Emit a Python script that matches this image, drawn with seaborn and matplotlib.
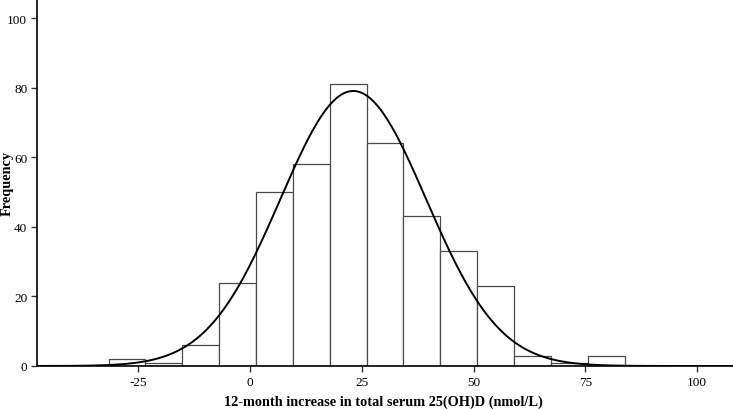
import numpy as np
import pandas as pd
import seaborn as sns
from matplotlib import pyplot as plt

sns.set_style("ticks")
plt.rcParams["font.family"] = ["Liberation Serif", "DejaVu Serif"]
plt.rcParams["axes.unicode_minus"] = False
plt.rcParams["text.color"] = "black"
plt.rcParams["axes.labelcolor"] = "black"

# histogram
bin_start = -31.6
bin_width = 8.24
counts = [2, 1, 6, 24, 50, 58, 81, 64, 43, 33, 23, 3, 1, 3]
# fitted normal curve
curve_mean = 23.1
curve_sd = 16.3

edges = bin_start + bin_width * np.arange(len(counts) + 1)
centers = (edges[:-1] + edges[1:]) / 2
n_total = sum(counts)
hist_df = pd.DataFrame({"center": centers, "count": counts})

fig, ax = plt.subplots(figsize=(7.33, 4.10), dpi=100)
fig.subplots_adjust(left=37 / 733, right=1.0, bottom=1 - 367 / 410, top=1.0)

sns.histplot(
    data=hist_df, x="center", weights="count", bins=edges.tolist(),
    facecolor="white", edgecolor="#4a4a4a", linewidth=0.9, alpha=1, ax=ax,
)

xs = np.linspace(-47.6, 108.0, 400)
ys = n_total * bin_width * np.exp(-0.5 * ((xs - curve_mean) / curve_sd) ** 2) / (
    curve_sd * np.sqrt(2 * np.pi)
)
sns.lineplot(x=xs, y=ys, color="black", linewidth=1.4, ax=ax)

ax.set_xlim(-47.6, 108.0)
ax.set_ylim(0, 105.5)
ax.set_xticks([-25, 0, 25, 50, 75, 100])
ax.set_yticks([0, 20, 40, 60, 80, 100])
ax.tick_params(length=4, width=1, labelsize=9.5, pad=3, color="#333333",
               labelcolor="black")
sns.despine(ax=ax)
for s in ["left", "bottom"]:
    ax.spines[s].set_linewidth(1.2)
    ax.spines[s].set_color("black")

ax.set_xlabel("12-month increase in total serum 25(OH)D (nmol/L)",
              fontsize=10.3, fontweight="bold")
ax.xaxis.set_label_coords((383 - 37) / 696, -(402 - 367) / 367)
ax.xaxis.label.set_va("center")
ax.set_ylabel("Frequency", fontsize=10.3, fontweight="bold")
ax.yaxis.set_label_coords((7 - 37) / 696, (367 - 184) / 367)
ax.yaxis.label.set_va("center")

plt.savefig("out.png", dpi=100)
